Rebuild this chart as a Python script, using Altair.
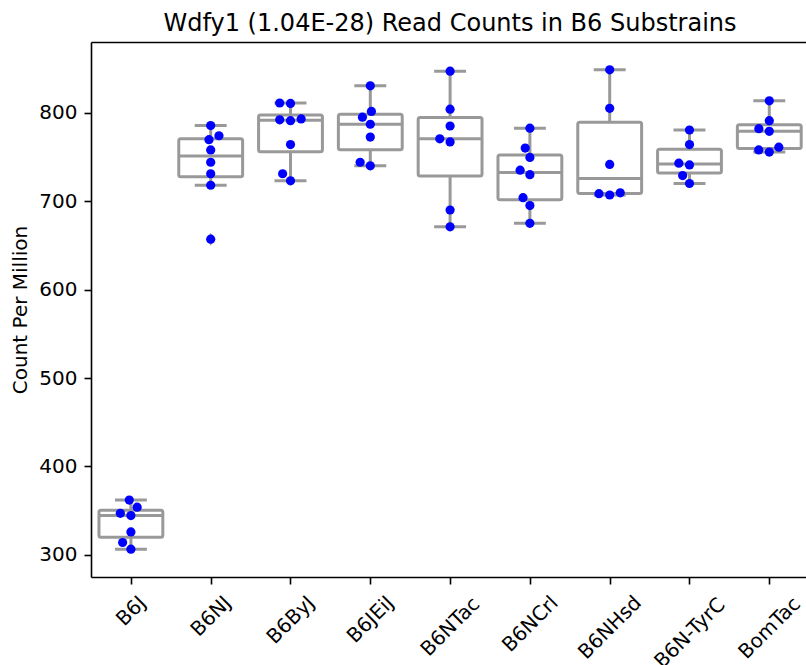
import json
import numpy as np
import pandas as pd
import altair as alt

# Substrains along the x axis
strains = ["B6J", "B6NJ", "B6ByJ", "B6JEiJ", "B6NTac", "B6NCrl", "B6NHsd", "B6N-TyrC", "BomTac"]

# Count-per-million values per substrain
b6j = [362, 354, 347, 344.5, 326, 314, 306.5]
b6nj = [785.5, 774, 769.5, 758, 744, 731, 718, 657]
b6byj = [811, 810.5, 793, 792, 791, 764, 731, 723]
b6jeij = [830.5, 801.5, 795, 787, 772.5, 744, 740]
b6ntac = [847, 804, 785, 770.5, 767, 690, 671]
b6ncrl = [782.5, 760, 749.5, 735, 730, 704, 695, 675]
b6nhsd = [848.5, 805, 741.5, 709.5, 708.5, 707]
b6n_tyrc = [780.5, 764, 743, 741, 729, 720]
bomtac = [813.5, 791, 782, 779, 761, 758, 755.5]

groups = [b6j, b6nj, b6byj, b6jeij, b6ntac, b6ncrl, b6nhsd, b6n_tyrc, bomtac]

title_text = "Wdfy1 (1.04E-28) Read Counts in B6 Substrains"
y_title = "Count Per Million"
y_ticks = [300, 400, 500, 600, 700, 800]

W, H = 715, 535
X_DOMAIN = [-0.5, 8.46]
Y_DOMAIN = [275, 880]
GRAY = "#999999"
LW = 3
FONT = "DejaVu Sans"
LABEL_SIZE = 20
DOT_D = 10.4      # drawn dot diameter, px
SWARM_D = 10.3    # minimum centre-to-centre spacing in the swarm, px

px_per_x = W / (X_DOMAIN[1] - X_DOMAIN[0])
px_per_y = H / (Y_DOMAIN[1] - Y_DOMAIN[0])


def swarm_offsets(vals):
    """Beeswarm layout (in px): place each point nearest the centre without overlap."""
    vals = np.asarray(vals, dtype=float)
    order = np.argsort(vals, kind="stable")
    placed = []
    out = np.zeros(len(vals))
    d = SWARM_D
    for i in order:
        y = vals[i] * px_per_y
        neighbors = []
        for xj, yj in reversed(placed):
            if y - yj < d:
                neighbors.append((xj, yj))
            else:
                break
        cands = [0.0]
        left_first = True
        for xj, yj in neighbors:
            dx = np.sqrt(max(d ** 2 - (y - yj) ** 2, 0)) * 1.05
            pair = [xj - dx, xj + dx] if left_first else [xj + dx, xj - dx]
            cands.extend(pair)
            left_first = not left_first
        cands = sorted(cands, key=abs)
        chosen = cands[0]
        for c in cands:
            if all((c - xj) ** 2 + (y - yj) ** 2 >= d ** 2 - 1e-9 for xj, yj in neighbors):
                chosen = c
                break
        placed.append((chosen, y))
        out[i] = chosen
    return out


point_rows, stat_rows, flier_rows = [], [], []
for idx, (name, vals) in enumerate(zip(strains, groups)):
    offs = swarm_offsets(vals)
    for v, o in zip(vals, offs):
        point_rows.append({"strain": name, "value": v, "xpos": idx + o / px_per_x})
    arr = np.asarray(vals, dtype=float)
    q1, med, q3 = np.percentile(arr, [25, 50, 75])
    iqr = q3 - q1
    inl = arr[(arr >= q1 - 1.5 * iqr) & (arr <= q3 + 1.5 * iqr)]
    stat_rows.append({"strain": name, "pos": idx, "q1": q1, "med": med, "q3": q3,
                      "lo": inl.min(), "hi": inl.max()})
    for v in arr[(arr < q1 - 1.5 * iqr) | (arr > q3 + 1.5 * iqr)]:
        flier_rows.append({"strain": name, "pos": idx, "value": v})

points = pd.DataFrame(point_rows)
stats = pd.DataFrame(stat_rows)
fliers = pd.DataFrame(flier_rows)

# Rotated tick labels: push each label down so its rotated box starts below the tick
char_w = {"B": 0.686, "6": 0.636, "J": 0.295, "N": 0.748, "y": 0.592, "E": 0.632,
          "i": 0.278, "T": 0.611, "a": 0.613, "c": 0.550, "C": 0.698, "r": 0.411,
          "l": 0.278, "H": 0.752, "s": 0.521, "d": 0.635, "-": 0.361, "o": 0.612,
          "m": 0.974}
text_h = 1.164 * LABEL_SIZE
pads = [round(7 + (sum(char_w.get(ch, 0.6) for ch in s) * LABEL_SIZE + text_h) / (2 * np.sqrt(2)), 1)
        for s in strains]

xscale = alt.Scale(domain=X_DOMAIN, nice=False, zero=False)
yscale = alt.Scale(domain=Y_DOMAIN, nice=False, zero=False)

x_axis = alt.Axis(
    orient="bottom",
    values=list(range(len(strains))),
    labelExpr=f"{json.dumps(strains)}[datum.value]",
    labelAngle=-45, labelAlign="center", labelBaseline="middle",
    labelPadding=alt.ExprRef(expr=f"{json.dumps(pads)}[datum.value]"),
    labelOverlap=False, labelFlush=False, labelBound=False,
    grid=False, title=None,
)
top_axis = alt.Axis(orient="top", labels=False, ticks=False, grid=False, title=None,
                    domain=True)
y_axis = alt.Axis(orient="left", values=y_ticks, format="d", grid=False,
                  labelOverlap=False, labelFlush=False,
                  title=y_title, titleAngle=270, titleX=-65, titleY=H / 2,
                  titleAlign="center", titleBaseline="alphabetic",
                  titleFontSize=LABEL_SIZE, titleFontWeight="normal")

sbase = alt.Chart(stats)

whisk_lo = sbase.mark_rule(color=GRAY, strokeWidth=LW).encode(
    x=alt.X("pos:Q", scale=xscale, axis=x_axis),
    y=alt.Y("lo:Q", scale=yscale, axis=y_axis), y2="q1:Q")
whisk_hi = sbase.mark_rule(color=GRAY, strokeWidth=LW).encode(
    x=alt.X("pos:Q", scale=xscale, axis=top_axis),
    y=alt.Y("q3:Q", scale=yscale, axis=None), y2="hi:Q")

caps = sbase.transform_calculate(
    cap_l="datum.pos - 0.2", cap_r="datum.pos + 0.2"
).transform_fold(["lo", "hi"], as_=["end", "yv"]).mark_rule(
    color=GRAY, strokeWidth=LW).encode(
    x=alt.X("cap_l:Q", scale=xscale, axis=None), x2="cap_r:Q",
    y=alt.Y("yv:Q", scale=yscale, axis=None))

boxes = sbase.transform_calculate(
    box_l="datum.pos - 0.4", box_r="datum.pos + 0.4"
).mark_rect(fill="white", stroke=GRAY, strokeWidth=LW, cornerRadius=2).encode(
    x=alt.X("box_l:Q", scale=xscale, axis=None), x2="box_r:Q",
    y=alt.Y("q1:Q", scale=yscale, axis=None), y2="q3:Q")

medians = sbase.transform_calculate(
    box_l="datum.pos - 0.4", box_r="datum.pos + 0.4"
).mark_rule(color=GRAY, strokeWidth=LW).encode(
    x=alt.X("box_l:Q", scale=xscale, axis=None), x2="box_r:Q",
    y=alt.Y("med:Q", scale=yscale, axis=None))

flier_marks = alt.Chart(fliers).mark_point(
    shape="M0,-1L0.6,0L0,1L-0.6,0Z", filled=True, color=GRAY, opacity=1, size=169
).encode(x=alt.X("pos:Q", scale=xscale, axis=None),
         y=alt.Y("value:Q", scale=yscale, axis=None))

dots = alt.Chart(points).mark_circle(
    color="#0000ff", opacity=1, size=np.pi * (DOT_D / 2) ** 2
).encode(
    x=alt.X("xpos:Q", scale=xscale, axis=None),
    y=alt.Y("value:Q", scale=yscale, axis=None))

chart = alt.layer(
    whisk_lo, whisk_hi, caps, boxes, medians, flier_marks, dots
).resolve_axis(x="independent", y="independent").properties(
    width=W, height=H,
    background="white",
    autosize=alt.AutoSizeParams(type="none"),
    padding={"left": 91, "top": 42, "right": 0, "bottom": 88},
    title=alt.TitleParams(title_text, fontSize=24, font=FONT, fontWeight="normal",
                          color="black", anchor="middle", frame="group",
                          baseline="alphabetic", offset=12, dx=1.5, dy=25),
).configure_view(stroke=None).configure_axis(
    domainColor="black", domainWidth=1.6, tickColor="black", tickWidth=1.6,
    tickSize=7, labelPadding=7, labelFont=FONT, labelFontSize=LABEL_SIZE,
    labelColor="black", titleFont=FONT, titleColor="black",
)

chart.save("out.html", embed_options={"renderer": "svg", "actions": False})
